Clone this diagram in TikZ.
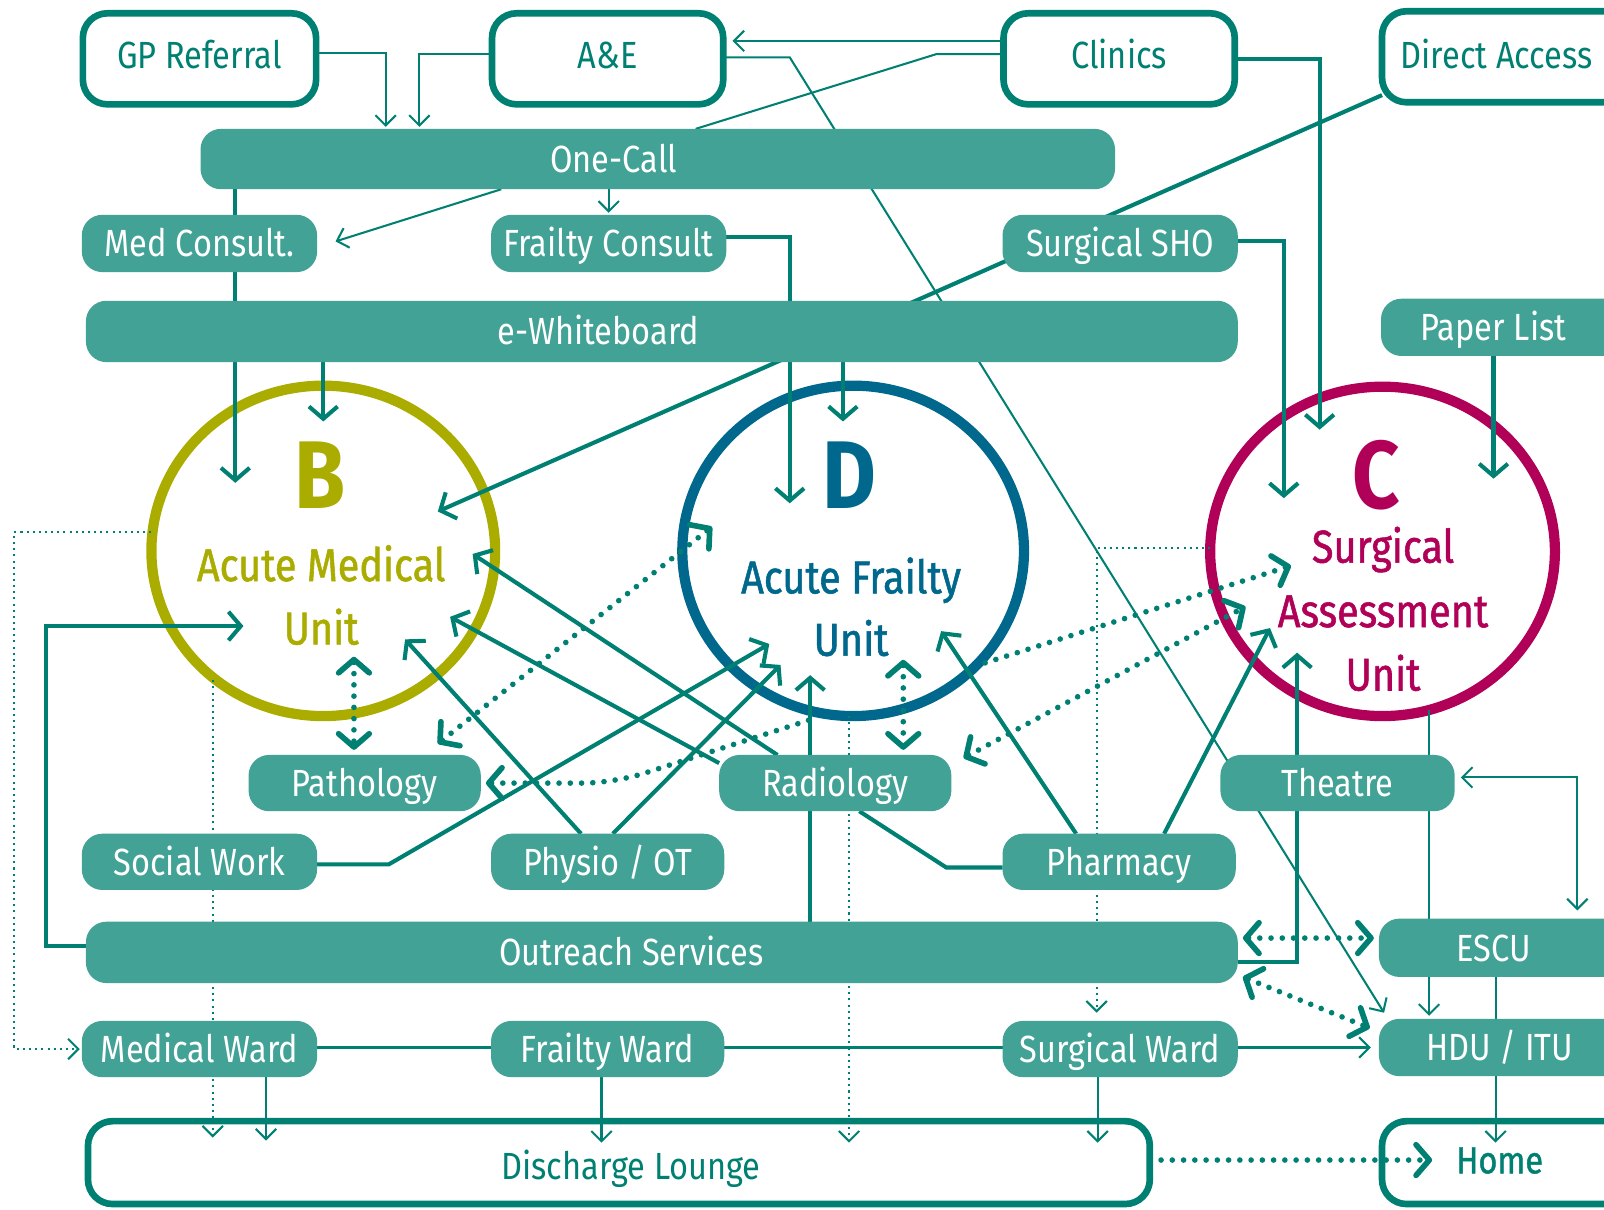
\documentclass[tikz,border=0pt]{standalone}
\usepackage{fontspec}
\setmainfont{Fira Sans}[FakeStretch=0.86]
\newfontfamily\medfont{Fira Sans}[FakeStretch=0.86,FakeBold=1.2]
\usetikzlibrary{arrows.meta,shapes.geometric}
\definecolor{tealD}{RGB}{0,128,114}
\definecolor{tealL}{RGB}{67,162,150}
\definecolor{oliveU}{RGB}{170,172,0}
\definecolor{blueU}{RGB}{0,104,140}
\definecolor{magU}{RGB}{176,0,88}
\newcommand\lblfont{\fontsize{37}{40}\selectfont}
\newcommand\unitfont{\medfont\fontsize{45}{50}\selectfont}
\newcommand\bigfont{\fontsize{94}{100}\selectfont\bfseries}
\pgfdeclarelayer{circ}
\pgfdeclarelayer{lines}
\pgfsetlayers{circ,lines,main}
\tikzset{
  tA/.tip={Straight Barb[length=10pt,width=20pt]},
  TA/.tip={Straight Barb[length=12pt,width=28pt]},
  DA/.tip={Straight Barb[length=13pt,width=30pt,round]},
  topbox/.style={draw=tealD,line width=6.5pt,fill=white,rounded corners=24pt,minimum height=89pt,inner sep=0pt,outer sep=0pt,text=tealD,font=\lblfont,text height=26pt,text depth=7pt},
  bar/.style={fill=tealL,rounded corners=20pt,minimum height=56pt,inner sep=0pt,outer sep=0pt,text=white,font=\lblfont,text height=26pt,text depth=0pt},
  lbl/.style={text=white,font=\lblfont,text height=26pt,text depth=0pt,inner sep=0pt},
  unit/.style={ellipse,line width=10pt,inner sep=0pt,outer sep=0pt,minimum height=323pt},
  thinline/.style={draw=tealD,line width=2pt},
  thickline/.style={draw=tealD,line width=4pt},
  dotthin/.style={draw=tealD,line width=2pt,dash pattern=on 2pt off 4pt},
  dotthick/.style={draw=tealD,line width=5.5pt,line cap=round,dash pattern=on 0pt off 11pt},
}
\begin{document}
\begin{tikzpicture}[x=1pt,y=-1pt]
\useasboundingbox (0,0) rectangle (1568,1182);
\clip (0,0) rectangle (1568,1182);

% ---------- units (circles) ----------
\begin{pgfonlayer}{circ}
\node[unit,draw=oliveU,minimum width=336pt] (B) at (316,538.5) {};
\node[unit,draw=blueU,minimum width=334pt] (D) at (834,538.5) {};
\node[unit,draw=magU,minimum width=337pt,minimum height=322pt] (C) at (1351.5,539) {};
\node[anchor=base,text=oliveU,font=\bigfont] (Bl) at (313,497) {B};
\node[anchor=base,text=oliveU,font=\unitfont] (Bt1) at (314,568) {Acute Medical};
\node[anchor=base,text=oliveU,font=\unitfont] (Bt2) at (314,630) {Unit};
\node[anchor=base,text=blueU,font=\bigfont] (Dl) at (830,497) {D};
\node[anchor=base,text=blueU,font=\unitfont] (Dt1) at (832,580) {Acute Frailty};
\node[anchor=base,text=blueU,font=\unitfont] (Dt2) at (832,641) {Unit};
\node[anchor=base,text=magU,font=\bigfont] (Cl) at (1345,497) {C};
\node[anchor=base,text=magU,font=\unitfont] (Ct1) at (1352,550) {Surgical};
\node[anchor=base,text=magU,font=\unitfont] (Ct2) at (1352,613) {Assessment};
\node[anchor=base,text=magU,font=\unitfont] (Ct3) at (1352,675) {Unit};
\end{pgfonlayer}

% ---------- boxes ----------
\node[topbox,minimum width=228pt] (gp) at (195,57.5) {GP Referral};
\node[topbox,minimum width=226pt] (ae) at (594,57.5) {A\&E};
\node[topbox,minimum width=226pt] (clin) at (1094,57.5) {Clinics};
\node[topbox,minimum width=260pt,label={[lbl,text=tealD,xshift=-18pt,yshift=1.5pt]center:Direct Access}] (da) at (1481,55.5) {};

\node[bar,minimum width=894pt,minimum height=59pt,label={[lbl,xshift=-43pt]center:One-Call}] (onecall) at (643,155.5) {};
\node[bar,minimum width=230pt] (medc) at (195,238) {Med Consult.};
\node[bar,minimum width=230pt] (frc) at (595,238) {Frailty Consult};
\node[bar,minimum width=230pt] (sho) at (1095,238) {Surgical SHO};
\node[bar,minimum width=1126pt,minimum height=60pt,label={[lbl,xshift=-62pt]center:e-Whiteboard}] (ewb) at (647,324) {};
\node[bar,minimum width=260pt,label={[lbl,xshift=-20pt]center:Paper List}] (paper) at (1480,320) {};

\node[bar,minimum width=227pt,minimum height=55pt] (patho) at (356.5,765.5) {Pathology};
\node[bar,minimum width=227pt,minimum height=55pt] (rad) at (816.5,765.5) {Radiology};
\node[bar,minimum width=229pt,minimum height=55pt] (theatre) at (1307.5,765.5) {Theatre};
\node[bar,minimum width=230pt,minimum height=55pt] (socw) at (195,842.5) {Social Work};
\node[bar,minimum width=228pt,minimum height=55pt] (physio) at (594,842.5) {Physio / OT};
\node[bar,minimum width=228pt,minimum height=55pt] (pharm) at (1094,842.5) {Pharmacy};
\node[bar,minimum width=1126pt,minimum height=60pt,label={[lbl,xshift=-30pt]center:Outreach Services}] (outreach) at (647,931) {};
\node[bar,minimum width=260pt,minimum height=57pt,label={[lbl,xshift=-18pt]center:ESCU}] (escu) at (1478,926.5) {};
\node[bar,minimum width=230pt,minimum height=55pt] (medw) at (195,1025.5) {Medical Ward};
\node[bar,minimum width=228pt,minimum height=55pt] (frw) at (594,1025.5) {Frailty Ward};
\node[bar,minimum width=230pt,minimum height=55pt] (surw) at (1095,1025.5) {Surgical Ward};
\node[bar,minimum width=260pt,minimum height=56pt,label={[lbl,xshift=-12pt]center:HDU / ITU}] (hdu) at (1478,1024) {};
\node[topbox,fill=none,minimum width=1038pt,minimum height=81pt,label={[lbl,text=tealD,xshift=12pt,yshift=-3.5pt]center:Discharge Lounge}] (dis) at (605,1136.5) {};
\node[topbox,fill=none,minimum width=260pt,minimum height=81pt,label={[lbl,text=tealD,xshift=-15pt,yshift=2.5pt]center:{\medfont Home}}] (home) at (1481,1136.5) {};

% ---------- connectors ----------
\begin{pgfonlayer}{lines}
% thin solid
\draw[thinline,-tA] ([yshift=5.5pt]gp.east) -| ([xshift=-266pt,yshift=2pt]onecall.north);
\draw[thinline,-tA] ([yshift=4.5pt]ae.west) -| ([xshift=-233pt,yshift=2pt]onecall.north);
\draw[thinline,-tA] ([yshift=17.5pt]clin.west) -- ([xshift=9pt,yshift=17.5pt]ae.east);
\draw[thinline] ([yshift=4.5pt]clin.west) -- ++(-66,0) -- ([xshift=37pt]onecall.north);
\draw[thinline,-tA] ([yshift=1.5pt]ae.east) -- ++(65,0) -- ([xshift=5pt,yshift=6pt]hdu.north west);
\draw[thinline,-tA] ([xshift=-153pt]onecall.south) -- ([xshift=18pt,yshift=2pt]medc.east);
\draw[thinline,-tA] (onecall.south -| frc.north) -- ([yshift=2pt]frc.north);
\draw[thinline,-tA] ([xshift=45.5pt,yshift=-155pt]C.center) -- ([xshift=49pt,yshift=3pt]hdu.north west);
\draw[thinline,tA-tA] ([xshift=6pt,yshift=5.5pt]theatre.east) -| ([xshift=194pt,yshift=8pt]escu.north west);
\draw[thinline,-tA] ([xshift=114pt]escu.south west) -- ([xshift=111pt,yshift=-21pt]home.north west);
\draw[thinline,-tA] ([yshift=1.5pt]surw.east) -- ([xshift=-8pt]hdu.west);
\draw[thinline] ([yshift=1.5pt]medw.east) -- ([yshift=1.5pt]frw.west);
\draw[thinline] ([yshift=1.5pt]frw.east) -- ([yshift=1.5pt]surw.west);
\draw[thinline,-tA] ([xshift=65pt]medw.south) -- ([xshift=174pt,yshift=-19pt]dis.north west);
\draw[thinline,-tA] ([xshift=-6pt]frw.south) -- ([xshift=502pt,yshift=-21pt]dis.north west);
\draw[thinline,-tA] ([xshift=-22pt]surw.south) -- ([xshift=987pt,yshift=-21pt]dis.north west);

% thick solid
\draw[thickline,-TA] ([yshift=-0.5pt]clin.east) -| ([xshift=-61.5pt,yshift=119pt]C.center);
\draw[thickline,-TA] ([yshift=7pt]da.south west) -- ([xshift=112pt,yshift=38.5pt]B.center);
\draw[thickline,-TA] ([xshift=-413pt]onecall.south) -- ([xshift=-86pt,yshift=66.5pt]B.center);
\draw[thickline,-TA] (ewb.south -| B.north) -- ([yshift=-35pt]B.north);
\draw[thickline,-TA] ([xshift=177pt]ewb.south) -- ([xshift=-10pt,yshift=-35pt]D.north);
\draw[thickline,-TA] ([yshift=6pt]frc.east) -| ([xshift=-62pt,yshift=46.5pt]D.center);
\draw[thickline,-TA] ([yshift=2pt]sho.east) -| ([xshift=-96.5pt,yshift=52pt]C.center);
\draw[thickline,-TA] ([xshift=110pt]paper.south west) -- ([xshift=108.5pt,yshift=71pt]C.center);
\draw[thickline,-TA] ([yshift=6pt]outreach.west) -- ++(-39,0) |- ([xshift=-78pt,yshift=-73.5pt]B.center);
\draw[thickline,-TA] ([yshift=-2.5pt]socw.east) -- ++(70,0) -- ([xshift=-82pt,yshift=-91pt]D.center);
\draw[thickline,-TA] ([xshift=-26pt]physio.north) -- ([xshift=80pt,yshift=-86.5pt]B.center);
\draw[thickline,-TA] ([xshift=5pt]physio.north) -- ([xshift=-71pt,yshift=-111.5pt]D.center);
\draw[thickline,-TA] ([xshift=57pt]rad.north west) -- ([xshift=146pt,yshift=-3pt]B.center);
\draw[thickline,-TA] ([yshift=-8pt]rad.north west) -- ([xshift=124pt,yshift=-64.5pt]B.center);
\draw[thickline,-TA] ([xshift=145pt]outreach.north) -- ([xshift=-42pt,yshift=-121.5pt]D.center);
\draw[thickline,-TA] ([xshift=-42pt]pharm.north) -- ([xshift=86pt,yshift=-78.5pt]D.center);
\draw[thickline,-TA] ([xshift=44pt]pharm.north) -- ([xshift=-110pt,yshift=-75pt]C.center);
\draw[thickline] ([xshift=23.5pt]rad.south) -- ([xshift=-55pt,yshift=-5.5pt]pharm.west) -- ([yshift=-5.5pt]pharm.west);
\draw[thickline,-TA] ([yshift=-9pt]outreach.east) -| ([xshift=-83.5pt,yshift=-99pt]C.center);

% thin dotted
\draw[dotthin,-tA] ([yshift=18.5pt]B.west) -- ++(-134,0) |- ([xshift=-2pt]medw.west);
\draw[dotthin,-tA] ([xshift=-108pt,yshift=-126.5pt]B.center) -- ([xshift=122pt,yshift=-16pt]dis.north west);
\draw[dotthin,-tA] ([xshift=-4pt]D.south) -- ([xshift=744pt,yshift=-21pt]dis.north west);
\draw[dotthin,-tA] ([yshift=3.5pt]C.west) -| ([xshift=-23pt,yshift=8pt]surw.north);

% thick dotted
\draw[dotthick,DA-DA] ([xshift=30pt,yshift=-103.5pt]B.center) -- ([xshift=-10.5pt,yshift=5pt]patho.north);
\draw[dotthick,DA-DA] ([xshift=49pt,yshift=-106.5pt]D.center) -- ([xshift=66.5pt,yshift=5pt]rad.north);
\draw[dotthick,DA-DA] ([xshift=-42pt,yshift=11pt]patho.north east) -- ([xshift=-138pt,yshift=23.5pt]D.center);
\draw[dotthick,DA-,rounded corners=30pt] ([xshift=5pt]patho.east) -- ++(125,0) -- ([xshift=-34pt,yshift=-162.5pt]D.center);
\draw[dotthick,-DA] ([xshift=129pt,yshift=-109.5pt]D.center) -- ([xshift=-89.5pt,yshift=-14pt]C.center);
\draw[dotthick,DA-DA] ([xshift=12pt,yshift=-3pt]rad.north east) -- ([xshift=-134pt,yshift=-54pt]C.center);
\draw[dotthick,DA-DA] ([xshift=5pt,yshift=14pt]outreach.east) -- ([xshift=-5pt,yshift=9.5pt]escu.west);
\draw[dotthick,DA-DA] ([xshift=5pt,yshift=-24pt]outreach.east) -- ([xshift=-9pt,yshift=19pt]hdu.west);
\draw[dotthick,-DA] ([yshift=2.5pt]dis.east) -- ([xshift=49pt,yshift=2.5pt]home.west);
\end{pgfonlayer}
\end{tikzpicture}
\end{document}
